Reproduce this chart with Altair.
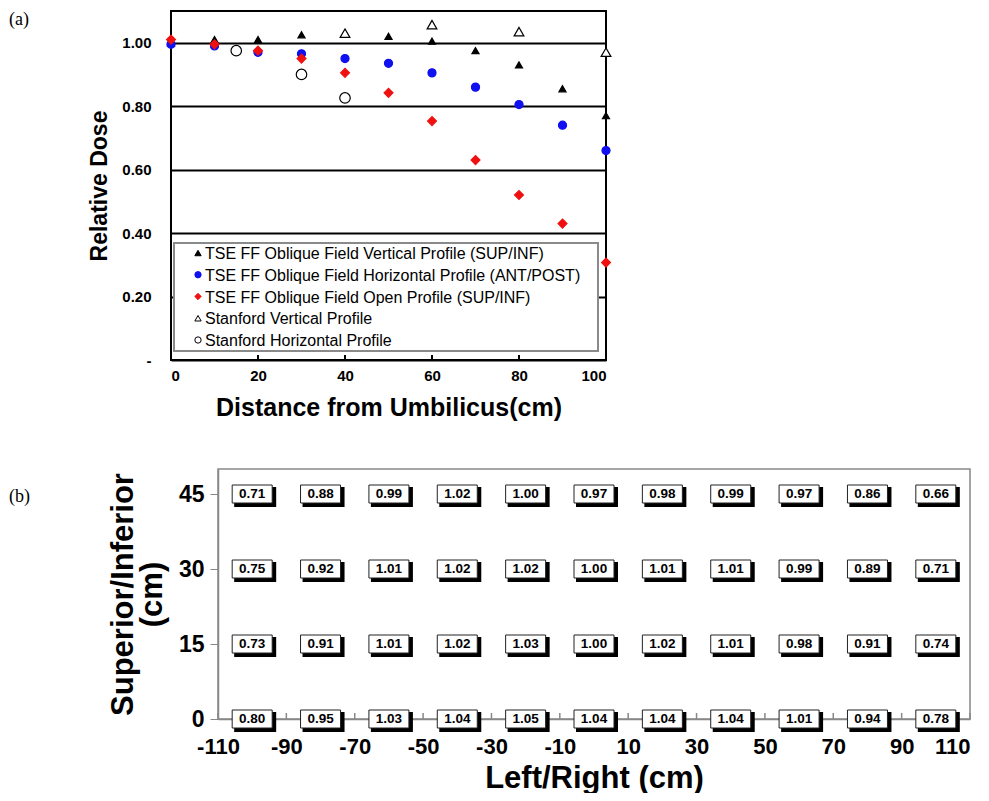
import altair as alt
import pandas as pd

# ---------------- Panel (a) data ----------------
distance_cm = [0, 10, 20, 30, 40, 50, 60, 70, 80, 90, 100]
tse_vertical = [1.00, 1.01, 1.01, 1.025, 1.03, 1.02, 1.005, 0.975, 0.93, 0.855, 0.77]
tse_horizontal = [0.995, 0.99, 0.97, 0.965, 0.95, 0.935, 0.905, 0.86, 0.805, 0.74, 0.66]
tse_open = [1.01, 0.995, 0.975, 0.95, 0.905, 0.842, 0.753, 0.63, 0.52, 0.43, 0.307]
stanford_vertical_cm = [40, 60, 80, 100]
stanford_vertical = [1.03, 1.057, 1.035, 0.97]
stanford_horizontal_cm = [15, 30, 40]
stanford_horizontal = [0.975, 0.90, 0.826]

series_names = [
    "TSE FF Oblique Field Vertical Profile (SUP/INF)",
    "TSE FF Oblique Field Horizontal Profile (ANT/POST)",
    "TSE FF Oblique Field Open Profile (SUP/INF)",
    "Stanford Vertical Profile",
    "Stanford Horizontal Profile",
]
series_shapes = ["triangle-up", "circle", "diamond", "triangle-up", "circle"]
series_fills = ["black", "#1010f0", "#f01010", "white", "white"]
series_strokes = ["black", "#1010f0", "#f01010", "black", "black"]
series_sizes = [50, 110, 75, 100, 110]
x_ticks_a = [0, 20, 40, 60, 80, 100]
inner_ticks_a = [20, 40, 60, 80]
y_ticks_a = [0, 0.2, 0.4, 0.6, 0.8, 1.0]
panel_labels = ["(a)", "(b)"]

# ---------------- Panel (b) data ----------------
lr_cm = [-100, -80, -60, -40, -20, 0, 20, 40, 60, 80, 100]
row_45 = [0.71, 0.88, 0.99, 1.02, 1.00, 0.97, 0.98, 0.99, 0.97, 0.86, 0.66]
row_30 = [0.75, 0.92, 1.01, 1.02, 1.02, 1.00, 1.01, 1.01, 0.99, 0.89, 0.71]
row_15 = [0.73, 0.91, 1.01, 1.02, 1.03, 1.00, 1.02, 1.01, 0.98, 0.91, 0.74]
row_0 = [0.80, 0.95, 1.03, 1.04, 1.05, 1.04, 1.04, 1.04, 1.01, 0.94, 0.78]
si_rows = [45, 30, 15, 0]
x_ticks_b = [-110, -90, -70, -50, -30, -10, 10, 30, 50, 70, 90, 110]
y_ticks_b = [0, 15, 30, 45]

SANS = "Liberation Sans, Arial, sans-serif"
SERIF = "Liberation Serif, Times New Roman, serif"

# ---------------- build tables ----------------
rows = []
for s, xs, ys in [
    (series_names[0], distance_cm, tse_vertical),
    (series_names[1], distance_cm, tse_horizontal),
    (series_names[2], distance_cm, tse_open),
    (series_names[3], stanford_vertical_cm, stanford_vertical),
    (series_names[4], stanford_horizontal_cm, stanford_horizontal),
]:
    for x, y in zip(xs, ys):
        rows.append({"series": s, "distance": x, "dose": y})
df_a = pd.DataFrame(rows)
df_legend = pd.DataFrame({"series": series_names, "row": list(range(len(series_names)))})

grid_rows = []
for yv, vals in zip(si_rows, [row_45, row_30, row_15, row_0]):
    for xv, v in zip(lr_cm, vals):
        grid_rows.append({"lr": xv, "si": yv, "dose": v, "label": f"{v:.2f}"})
df_b = pd.DataFrame(grid_rows)

# ---------------- Panel (a) ----------------
W_A, H_A = 435, 349
x_a = alt.X(
    "distance:Q",
    scale=alt.Scale(domain=[0, 100], nice=False),
    axis=alt.Axis(
        values=x_ticks_a, format="d", title="Distance from Umbilicus(cm)",
        labelFont=SANS, labelFontSize=15, labelFontWeight="bold", labelColor="black",
        titleFont=SANS, titleFontSize=25, titleFontWeight="bold", titleColor="black",
        ticks=False, domain=False, grid=False, labelPadding=8, titlePadding=12,
    ),
)
y_a = alt.Y(
    "dose:Q",
    scale=alt.Scale(domain=[0, 1.1], nice=False),
    axis=alt.Axis(
        values=y_ticks_a,
        labelExpr="datum.value == 0 ? '-' : format(datum.value, '.2f')",
        title="Relative Dose",
        labelFont=SANS, labelFontSize=15, labelFontWeight="bold", labelColor="black",
        titleFont=SANS, titleFontSize=23, titleFontWeight="bold", titleColor="black",
        ticks=False, domain=False, grid=True, gridColor="black", gridWidth=2,
        gridOpacity=1, labelPadding=20, titlePadding=10,
    ),
)

shape_enc = alt.Shape("series:N", scale=alt.Scale(domain=series_names, range=series_shapes),
                      legend=None)
color_enc = alt.Color("series:N", scale=alt.Scale(domain=series_names, range=series_fills),
                      legend=None)
stroke_enc = alt.Stroke("series:N", scale=alt.Scale(domain=series_names, range=series_strokes),
                        legend=None)

points_a = alt.Chart(df_a).mark_point(opacity=1, strokeWidth=1.2, filled=True).encode(
    x=x_a, y=y_a, shape=shape_enc, color=color_enc, stroke=stroke_enc,
    size=alt.Size("series:N", scale=alt.Scale(domain=series_names, range=series_sizes),
                  legend=None),
)

inner_ticks = alt.Chart(pd.DataFrame({"distance": inner_ticks_a})).mark_rule(
    color="black", strokeWidth=2
).encode(x="distance:Q", y=alt.value(H_A), y2=alt.value(H_A - 5))

label_a = alt.Chart(pd.DataFrame({"t": [panel_labels[0]]})).mark_text(
    font=SERIF, fontSize=18, align="left", baseline="top", color="black"
).encode(x=alt.value(-162), y=alt.value(0), text="t:N")

# legend drawn as marks inside the plot (bottom-left box)
legend_box = alt.Chart(pd.DataFrame({"k": [0]})).mark_rect(
    fill="white", stroke="#8a8a8a", strokeWidth=2
).encode(x=alt.value(3), x2=alt.value(427), y=alt.value(232), y2=alt.value(340))

leg_y = alt.Y("row:Q", scale=alt.Scale(domain=[0, 4], range=[242, 329]), axis=None)
legend_sym = alt.Chart(df_legend).mark_point(
    opacity=1, strokeWidth=1, filled=True, size=40
).encode(x=alt.value(27), y=leg_y, shape=shape_enc, color=color_enc, stroke=stroke_enc)
legend_txt = alt.Chart(df_legend).mark_text(
    font=SANS, fontSize=16, align="left", baseline="middle", color="black", dy=1
).encode(x=alt.value(34), y=leg_y, text="series:N")

top = alt.layer(
    points_a, inner_ticks, label_a, legend_box, legend_sym, legend_txt
).resolve_scale(y="independent").properties(
    width=W_A, height=H_A,
    view=alt.ViewBackground(stroke="black", strokeWidth=2),
)

# ---------------- Panel (b) ----------------
SHIFT = 47          # panel (b) plot starts further right than panel (a)
W_B, H_B = 799, 250
x_b = alt.X(
    "lr:Q",
    scale=alt.Scale(domain=[-110, 110], nice=False, range=[SHIFT, W_B]),
    axis=alt.Axis(
        values=x_ticks_b, title="Left/Right (cm)",
        labelExpr="'' + datum.value",
        labelAlign={"condition": {"test": "datum.value == 110", "value": "right"},
                    "value": "center"},
        labelFont=SANS, labelFontSize=22, labelFontWeight="bold", labelColor="black",
        titleFont=SANS, titleFontSize=31, titleFontWeight="bold", titleColor="black",
        domainColor="#888888", domainWidth=1.5, ticks=False,
        grid=False, labelPadding=17, titlePadding=6, labelFlush=False, labelOverlap=False,
    ),
)
y_b = alt.Y(
    "si:Q",
    scale=alt.Scale(domain=[0, 50], nice=False),
    axis=alt.Axis(
        values=y_ticks_b, title=["Superior/Inferior", "(cm)"], offset=-SHIFT,
        labelFont=SANS, labelFontSize=23, labelFontWeight="bold", labelColor="black",
        titleFont=SANS, titleFontSize=31, titleFontWeight="bold", titleColor="black",
        titleLineHeight=29,
        domainColor="#888888", domainWidth=1.5, tickColor="#888888", tickSize=8,
        grid=False, labelPadding=6, titlePadding=10,
    ),
)

frame_b = alt.Chart(pd.DataFrame({"k": [0]})).mark_rect(
    filled=False, stroke="#888888", strokeWidth=1.5
).encode(x=alt.value(SHIFT), x2=alt.value(W_B), y=alt.value(0), y2=alt.value(H_B))

BOX = "M-1,-0.45L1,-0.45L1,0.45L-1,0.45Z"
base_b = alt.Chart(df_b).encode(x=x_b, y=y_b)
shadow = base_b.mark_point(
    shape=BOX, size=1600, filled=True, fill="black", stroke="black",
    opacity=1, xOffset=3, yOffset=3,
)
boxes = base_b.mark_point(
    shape=BOX, size=1600, filled=True, fill="white", stroke="#222222",
    strokeWidth=1, opacity=1,
)
texts = base_b.mark_text(
    font=SANS, fontSize=13.5, fontWeight="bold", color="black",
    align="center", baseline="middle",
).encode(text="label:N")

inner_ticks_b = alt.Chart(pd.DataFrame({"lr": x_ticks_b})).mark_rule(
    color="#888888", strokeWidth=1.5
).encode(x="lr:Q", y=alt.value(H_B), y2=alt.value(H_B - 6))

label_b = alt.Chart(pd.DataFrame({"t": [panel_labels[1]]})).mark_text(
    font=SERIF, fontSize=18, align="left", baseline="top", color="black"
).encode(x=alt.value(-162), y=alt.value(19), text="t:N")

bottom = alt.layer(frame_b, inner_ticks_b, shadow, boxes, texts, label_b).properties(
    width=W_B, height=H_B,
    view=alt.ViewBackground(stroke="transparent", strokeWidth=0),
)

chart = alt.vconcat(top, bottom, spacing=47).properties(
    padding={"left": 0, "top": 2, "right": 0, "bottom": 0},
)

chart.save("out.html", embed_options={"renderer": "svg", "actions": False})
